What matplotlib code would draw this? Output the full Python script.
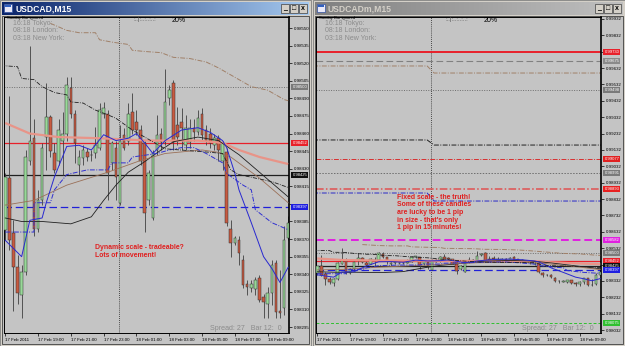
import matplotlib
matplotlib.use('Agg')
import matplotlib.pyplot as plt
import numpy as np
from matplotlib.patches import Rectangle
from matplotlib.colors import LinearSegmentedColormap
import matplotlib.transforms as mtrans

plt.rcParams['font.family'] = ['Liberation Sans', 'DejaVu Sans']

# ============================================================
# DATA (USDCAD M15, 17 Feb 17:00 -> 18 Feb 09:45)
# ============================================================
time_labels = ['17 Feb 2011', '17 Feb 19:00', '17 Feb 21:00', '17 Feb 23:00', '18 Feb 01:00',
               '18 Feb 03:00', '18 Feb 05:00', '18 Feb 07:00', '18 Feb 09:00']
time_label_bars = [0, 8, 16, 24, 32, 40, 48, 56, 64]
day_break = 27.8

opens = [0.98378, 0.98422, 0.98375, 0.98346, 0.98322, 0.98342, 0.98437, 0.98456, 0.98379, 0.98403,
         0.98457, 0.98474, 0.98443, 0.98437, 0.98454, 0.98460, 0.98499, 0.98477, 0.98433, 0.98439,
         0.98444, 0.98442, 0.98443, 0.98448, 0.98477, 0.98477, 0.98435, 0.98448, 0.98401, 0.98459,
         0.98454, 0.98478, 0.98470, 0.98463, 0.98452, 0.98403, 0.98388, 0.98446, 0.98460, 0.98453,
         0.98490, 0.98503, 0.98467, 0.98470, 0.98450, 0.98453, 0.98465, 0.98461, 0.98477, 0.98463,
         0.98460, 0.98450, 0.98456, 0.98437, 0.98444, 0.98379, 0.98367, 0.98369, 0.98352, 0.98332,
         0.98328, 0.98327, 0.98337, 0.98321, 0.98315, 0.98324, 0.98350, 0.98309, 0.98311, 0.98371]
highs = [0.98426, 0.98492, 0.98386, 0.98356, 0.98348, 0.98446, 0.98535, 0.98472, 0.98412, 0.98452,
         0.98503, 0.98476, 0.98452, 0.98472, 0.98478, 0.98508, 0.98508, 0.98480, 0.98446, 0.98450,
         0.98448, 0.98446, 0.98466, 0.98486, 0.98487, 0.98480, 0.98454, 0.98454, 0.98467, 0.98465,
         0.98486, 0.98495, 0.98480, 0.98467, 0.98454, 0.98429, 0.98446, 0.98476, 0.98465, 0.98515,
         0.98501, 0.98506, 0.98483, 0.98482, 0.98476, 0.98472, 0.98472, 0.98480, 0.98482, 0.98467,
         0.98465, 0.98460, 0.98459, 0.98454, 0.98448, 0.98386, 0.98373, 0.98373, 0.98356, 0.98335,
         0.98335, 0.98338, 0.98339, 0.98323, 0.98329, 0.98352, 0.98352, 0.98344, 0.98381, 0.98390]
lows = [0.98369, 0.98361, 0.98309, 0.98315, 0.98303, 0.98339, 0.98433, 0.98373, 0.98376, 0.98399,
        0.98429, 0.98440, 0.98426, 0.98433, 0.98425, 0.98454, 0.98473, 0.98435, 0.98425, 0.98433,
        0.98437, 0.98437, 0.98439, 0.98446, 0.98473, 0.98403, 0.98429, 0.98403, 0.98399, 0.98446,
        0.98450, 0.98460, 0.98459, 0.98433, 0.98376, 0.98399, 0.98386, 0.98442, 0.98446, 0.98450,
        0.98484, 0.98446, 0.98450, 0.98446, 0.98446, 0.98448, 0.98454, 0.98459, 0.98454, 0.98450,
        0.98448, 0.98446, 0.98437, 0.98429, 0.98381, 0.98355, 0.98365, 0.98348, 0.98328, 0.98322,
        0.98325, 0.98322, 0.98316, 0.98303, 0.98303, 0.98314, 0.98303, 0.98303, 0.98305, 0.98369]
closes = [0.98423, 0.98369, 0.98346, 0.98324, 0.98342, 0.98440, 0.98454, 0.98379, 0.98403, 0.98448,
          0.98474, 0.98445, 0.98429, 0.98463, 0.98460, 0.98501, 0.98477, 0.98452, 0.98440, 0.98446,
          0.98440, 0.98442, 0.98450, 0.98480, 0.98482, 0.98426, 0.98452, 0.98423, 0.98454, 0.98448,
          0.98477, 0.98463, 0.98463, 0.98437, 0.98392, 0.98426, 0.98443, 0.98459, 0.98453, 0.98487,
          0.98497, 0.98453, 0.98457, 0.98465, 0.98465, 0.98465, 0.98461, 0.98473, 0.98459, 0.98454,
          0.98452, 0.98456, 0.98446, 0.98452, 0.98384, 0.98367, 0.98371, 0.98358, 0.98331, 0.98329,
          0.98332, 0.98335, 0.98318, 0.98316, 0.98324, 0.98348, 0.98308, 0.98307, 0.98369, 0.98384]

# indicator lines, read at selected bars
pink_x = [0, 6, 13, 23, 35, 47, 53, 57, 62, 69]
pink_y = [0.98469, 0.98460, 0.98457, 0.98456, 0.98454, 0.98454, 0.98452, 0.98446, 0.98440, 0.98434]
black_x = [0, 4, 9, 16, 21, 24, 27, 30, 34, 38, 41, 47, 52, 57, 62, 69]
black_y = [0.98388, 0.98385, 0.98385, 0.98383, 0.98389, 0.98403, 0.98416, 0.98427, 0.98436, 0.98446,
           0.98453, 0.98457, 0.98454, 0.98442, 0.98427, 0.98406]
brown_x = [0, 7, 15, 25, 33, 39, 48, 52, 55, 62, 69]
brown_y = [0.98399, 0.98403, 0.98416, 0.98427, 0.98437, 0.98443, 0.98446, 0.98444, 0.98440, 0.98422, 0.98401]
blue_x = [0, 4, 6, 9, 10, 12, 15, 18, 21, 24, 27, 30, 32, 34, 36, 39, 43, 47, 50, 53, 54, 56, 57,
          60, 63, 65, 67, 69]
blue_y = [0.98369, 0.98355, 0.98386, 0.98388, 0.98401, 0.98423, 0.98449, 0.98450, 0.98446, 0.98459,
          0.98454, 0.98456, 0.98460, 0.98452, 0.98443, 0.98454, 0.98463, 0.98465, 0.98461, 0.98454,
          0.98448, 0.98426, 0.98412, 0.98384, 0.98355, 0.98345, 0.98333, 0.98346]
bluedd_x = [0, 7, 7, 11, 12, 15, 20, 25, 26, 30, 31, 37, 40, 43, 46, 49, 52, 53, 54, 58, 60, 61, 65, 69]
bluedd_y = [0.98376, 0.98376, 0.98401, 0.98401, 0.98412, 0.98425, 0.98429, 0.98429, 0.98435, 0.98435,
            0.98440, 0.98443, 0.98446, 0.98448, 0.98448, 0.98443, 0.98437, 0.98435, 0.98426, 0.98416,
            0.98412, 0.98395, 0.98384, 0.98378]
blackdd_x = [-1, 3, 4, 7, 9, 12, 15, 16, 19, 22, 25, 27, 31, 39, 50, 53, 55, 57, 61, 65, 69]
blackdd_y = [0.98518, 0.98517, 0.98507, 0.98506, 0.98500, 0.98495, 0.98493, 0.98487, 0.98486, 0.98480,
             0.98476, 0.98473, 0.98463, 0.98447, 0.98444, 0.98443, 0.98429, 0.98425, 0.98422, 0.98419,
             0.98414]
tandd_x = [11, 15, 18, 22, 23, 26, 28, 30, 31, 34, 38, 41, 45, 49, 52, 56, 60, 64, 68, 69]
tandd_y = [0.98554, 0.98548, 0.98546, 0.98546, 0.98540, 0.98538, 0.98537, 0.98536, 0.98531, 0.98530,
           0.98529, 0.98525, 0.98524, 0.98521, 0.98516, 0.98508, 0.98500, 0.98497, 0.98489, 0.98488]

# horizontal price levels
level_prices = [0.98500, 0.98452, 0.98425, 0.98397, 0.99730, 0.99675, 0.99498,
                0.99077, 0.98991, 0.98893, 0.98582, 0.98075]
level_colors = ['#6e6e6e', '#e8202a', '#202020', '#2020d8', '#e8202a', '#808080', '#6e6e6e',
                '#d83030', '#6e6e6e', '#e05050', '#e020e0', '#30c030']
level_box = ['#7a7a7a', '#e8202a', '#101010', '#1e1ee0', '#e8202a', '#8a8a8a', '#7a7a7a',
             '#e02020', '#7a7a7a', '#e82020', '#e020e0', '#30c030']
level_styles = [(0, (1, 1.5)), '-', '-', (0, (6, 3)), '-', (0, (6, 3)), (0, (1, 1.5)),
                (0, (5, 1.5, 1, 1.5)), (0, (1.5, 1.5)), (0, (5, 1.5, 1, 1.5)), (0, (4, 2)), (0, (3, 2))]
level_widths = [0.7, 0.9, 0.9, 0.9, 1.4, 0.8, 0.7, 0.7, 0.7, 1.1, 1.4, 0.7]

# daily pivot-type levels that step at the day change
step_before = [0.99645, 0.99193, 0.98869]
step_after = [0.99602, 0.99162, 0.98820]
step_colors = ['#a08068', '#202020', '#2828c8']

left_ticks = [0.98550, 0.98535, 0.98520, 0.98505, 0.98490, 0.98475, 0.98460, 0.98445, 0.98430,
              0.98415, 0.98400, 0.98385, 0.98370, 0.98355, 0.98340, 0.98325, 0.98310, 0.98295]
right_ticks = [0.99932, 0.99832, 0.99732, 0.99632, 0.99532, 0.99432, 0.99332, 0.99232, 0.99132, 0.99032,
               0.98932, 0.98832, 0.98732, 0.98632, 0.98532, 0.98432, 0.98332, 0.98232, 0.98132, 0.98032]

# ============================================================
# FIGURE / WINDOW FRAMES
# ============================================================
W, H = 625, 346
CHART_BG = '#c4c4c4'
FRAME = '#d4d0c8'

fig = plt.figure(figsize=(W / 100, H / 100), dpi=100)
fig.patch.set_facecolor(FRAME)

bg = fig.add_axes([0, 0, 1, 1], zorder=-5)
bg.set_xlim(0, W); bg.set_ylim(H, 0); bg.axis('off')


def px_axes(x0, y0, x1, y1):
    return fig.add_axes([x0 / W, 1 - y1 / H, (x1 - x0) / W, (y1 - y0) / H])


def ptext(x, y, s, **kw):
    return fig.text(x / W, 1 - y / H, s, **kw)


def window(x0, x1, title, active):
    bg.add_patch(Rectangle((x0, 0), x1 - x0, H, fc=FRAME, ec='#808080', lw=0.6))
    c = ['#0a246a', '#a6caf0'] if active else ['#808080', '#c0c0c0']
    cmap = LinearSegmentedColormap.from_list('t', c)
    bg.imshow(np.linspace(0, 1, 256)[None, :], extent=(x0 + 2, x1 - 2, 15, 2),
              cmap=cmap, aspect='auto', zorder=1)
    bg.add_patch(Rectangle((x0 + 4, 4), 8, 8, fc='#e8e8f8', ec='#3050a0', lw=0.5, zorder=2))
    bg.add_patch(Rectangle((x0 + 5, 5), 6, 2, fc='#3060c0', ec='none', zorder=3))
    ptext(x0 + 15, 8.8, title, fontsize=6.2, fontweight='bold',
          color='white' if active else '#d4d0c8', va='center')
    for k, g in enumerate(['_', '\u25a1', 'x']):
        bx = x1 - 30 + k * 9
        bg.add_patch(Rectangle((bx, 4), 8, 9, fc=FRAME, ec='#404040', lw=0.5, zorder=2))
        ptext(bx + 4, 8.6, g, fontsize=5, fontweight='bold', ha='center', va='center', color='black')
    bg.add_patch(Rectangle((x0 + 2, 16), x1 - x0 - 4, H - 18, fc=CHART_BG, ec='#404040', lw=0.6, zorder=1))


window(0, 311, 'USDCAD,M15', True)
window(313, 625, 'USDCADm,M15', False)

x_idx = np.arange(len(opens))
o = np.array(opens); c = np.array(closes); hi = np.array(highs); lo = np.array(lows)


def draw_chart(ax, ylim, ticks):
    ax.set_facecolor(CHART_BG)
    ax.set_xlim(-0.3, 69.2)
    ax.set_ylim(*ylim)
    for s in ax.spines.values():
        s.set_color('black'); s.set_linewidth(0.7)
    ax.spines['right'].set_linewidth(1.2)
    px_per_price = ax.get_position().height * H / (ylim[1] - ylim[0])

    ax.axvline(day_break, color='#202020', lw=0.6, ls=(0, (1, 1.5)), zorder=1)

    trans = mtrans.blended_transform_factory(ax.transAxes, ax.transData)
    boxed = []
    for p, col, bc, ls, lw in zip(level_prices, level_colors, level_box, level_styles, level_widths):
        ax.axhline(p, color=col, lw=lw, ls=ls, zorder=1)
        if ylim[0] <= p <= ylim[1]:
            boxed.append(p)
            ax.text(1.012, p, f'{p:.5f}', transform=trans, fontsize=3, color='white',
                    va='center', ha='left', clip_on=False, zorder=6,
                    bbox=dict(boxstyle='square,pad=0.25', fc=bc, ec='none'))
    for a, b, col in zip(step_before, step_after, step_colors):
        ax.plot([-1, day_break - 1, day_break + 0.7, 70], [a, a, b, b], color=col, lw=0.7,
                ls=(0, (5, 1.5, 1, 1.5)), zorder=1)

    # candles
    up = c >= o
    ax.vlines(x_idx, lo, hi, color='#404040', lw=0.6, zorder=2)
    body_lo = np.minimum(o, c)
    body_h = np.abs(c - o)
    ax.bar(x_idx, body_h, bottom=body_lo, width=0.62,
           color=np.where(up, '#98d898', '#c85a40'), edgecolor='#303030', linewidth=0.35, zorder=3)

    # indicators
    ax.plot(pink_x, pink_y, color='#e89488', lw=1.6, zorder=4, solid_capstyle='butt')
    ax.plot(black_x, black_y, color='#202020', lw=0.6, zorder=4)
    ax.plot(brown_x, brown_y, color='#9a7058', lw=0.6, zorder=4)
    ax.plot(blue_x, blue_y, color='#2828d0', lw=0.7, zorder=4)
    ax.plot(bluedd_x, bluedd_y, color='#3030d0', lw=0.7, ls=(0, (5, 1.5, 1, 1.5)), zorder=4)
    ax.plot(blackdd_x, blackdd_y, color='#202020', lw=0.6, ls=(0, (5, 1.5, 1, 1.5)), zorder=4)
    ax.plot(tandd_x, tandd_y, color='#a08068', lw=0.7, ls=(0, (5, 1.5, 1, 1.5)), zorder=4)

    # price scale: labels hidden under a level box are not shown
    ax.yaxis.tick_right()
    ax.set_yticks(ticks)
    ax.set_yticklabels(['' if any(abs(t - b) * px_per_price < 5 for b in boxed) else f'{t:.5f}'
                        for t in ticks])
    ax.tick_params(axis='y', length=2, width=0.5, labelsize=3.2, pad=1.2, colors='black')
    ax.set_xticks(time_label_bars)
    ax.set_xticklabels(time_labels)
    ax.tick_params(axis='x', length=2, width=0.5, labelsize=3.2, pad=1.5, colors='black')
    for lbl in ax.get_xticklabels():
        lbl.set_ha('left')


def overlay(dx):
    ptext(dx + 7, 18.5, 'Sunday Bar ignored', fontsize=3, color='black', va='center')
    for k, s in enumerate(['16:18 Tokyo:', '08:18 London:', '03:18 New York:']):
        ptext(dx + 13, 23.5 + k * 7.5, s, fontsize=5.0, color='#8c8c8c', va='center')
    ptext(dx + 133, 20, ':..|:..:..:..:', fontsize=4.2, color='#505050', va='center')
    ptext(dx + 172, 20, '20%', fontsize=5.0, color='black', va='center')
    ptext(dx + 210, 328, 'Spread: 27   Bar 12:  0', fontsize=5.1, color='#8c8c8c', va='center')


axL = px_axes(4, 17, 289, 333)
draw_chart(axL, (0.982899, 0.985594), left_ticks)
axR = px_axes(316, 17, 601, 333)
draw_chart(axR, (0.980138, 0.999442), right_ticks)

overlay(0)
overlay(312)

ptext(95, 251.5, 'Dynamic scale - tradeable?\nLots of movement!', fontsize=4.95, fontweight='bold',
      color='#e02020', va='center', linespacing=1.1)
ptext(397, 212.5, "Fixed scale - the truth!\nSome of these candles\nare lucky to be 1 pip\n"
      "in size - that's only\n1 pip in 15 minutes!", fontsize=4.95, fontweight='bold',
      color='#e02020', va='center', linespacing=1.1)

fig.savefig('out.png', dpi=100, facecolor=fig.get_facecolor())
